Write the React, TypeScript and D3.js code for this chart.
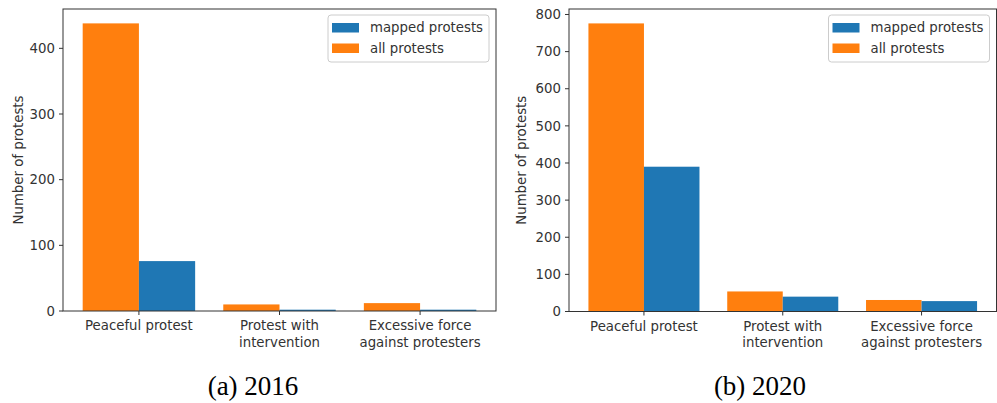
import React from "react";
import * as d3 from "d3";

const categories = ["Peaceful protest", "Protest with\nintervention", "Excessive force\nagainst protesters"];
const mapped2016 = [76, 2, 2];
const all2016 = [438, 10, 12];
const mapped2020 = [390, 40, 28];
const all2020 = [776, 54, 31];
const yTicks2016 = [0, 100, 200, 300, 400];
const yTicks2020 = [0, 100, 200, 300, 400, 500, 600, 700, 800];
const seriesNames = ["mapped protests", "all protests"];
const captions = ["(a) 2016", "(b) 2020"];

const BLUE = "#1f77b4";
const ORANGE = "#ff7f0e";
const AX = "#333333";
const FONT = "'DejaVu Sans', sans-serif";
const FS = 13.3;

type PanelProps = {
  left: number; right: number; top: number; bottom: number;
  mapped: number[]; all: number[]; ticks: number[]; caption: string;
  ylabelX: number; captionX: number;
};

function Panel({ left, right, top, bottom, mapped, all, ticks, caption, ylabelX, captionX }: PanelProps) {
  const maxV = d3.max(all.concat(mapped)) as number;
  const x = d3.scaleLinear().domain([-0.54, categories.length - 1 + 0.54]).range([left, right]);
  const y = d3.scaleLinear().domain([0, maxV * 1.05]).range([bottom, top]);
  const bw = 0.4;
  const legX = right - 168;
  return (
    <g>
      {all.map((v, i) => (
        <rect key={"a" + i} x={x(i - bw)} y={y(v)} width={x(i) - x(i - bw)} height={y(0) - y(v)} fill={ORANGE} />
      ))}
      {mapped.map((v, i) => (
        <rect key={"m" + i} x={x(i)} y={y(v)} width={x(i + bw) - x(i)} height={y(0) - y(v)} fill={BLUE} />
      ))}
      <rect x={left} y={top} width={right - left} height={bottom - top} fill="none" stroke={AX} strokeWidth={1} />
      {ticks.map((t) => (
        <g key={t}>
          <line x1={left - 4} x2={left} y1={y(t)} y2={y(t)} stroke={AX} />
          <text x={left - 8} y={y(t)} dy="0.35em" textAnchor="end" fontSize={FS} fontFamily={FONT} fill={AX}>{t}</text>
        </g>
      ))}
      {categories.map((c, i) => (
        <g key={c}>
          <line x1={x(i)} x2={x(i)} y1={bottom} y2={bottom + 4} stroke={AX} />
          {c.split("\n").map((ln, j) => (
            <text key={j} x={x(i)} y={bottom + 19 + j * 16.5} textAnchor="middle" fontSize={FS} fontFamily={FONT} fill={AX}>{ln}</text>
          ))}
        </g>
      ))}
      <text transform={`translate(${ylabelX},${(top + bottom) / 2}) rotate(-90)`} textAnchor="middle" fontSize={FS} fontFamily={FONT} fill={AX}>Number of protests</text>
      <rect x={legX} y={top + 6} width={161} height={47} rx={3} fill="white" fillOpacity={0.8} stroke="#cccccc" />
      {[BLUE, ORANGE].map((col, k) => (
        <g key={k}>
          <rect x={legX + 4} y={top + 14 + k * 20.5} width={27} height={9.5} fill={col} />
          <text x={legX + 42} y={top + 23 + k * 20.5} fontSize={FS} fontFamily={FONT} fill={AX}>{seriesNames[k]}</text>
        </g>
      ))}
      <text x={captionX} y={395} textAnchor="middle" fontSize={27} fontFamily="'Liberation Serif', serif" fill="#000">{caption}</text>
    </g>
  );
}

export default function App() {
  return (
    <svg width={997} height={403} style={{ position: "absolute", left: 0, top: 0, background: "white" }}>
      <rect width={997} height={403} fill="white" />
      <Panel left={63} right={496} top={9} bottom={311} mapped={mapped2016} all={all2016} ticks={yTicks2016} caption={captions[0]} ylabelX={23} captionX={253} />
      <Panel left={569} right={996.5} top={9} bottom={311.5} mapped={mapped2020} all={all2020} ticks={yTicks2020} caption={captions[1]} ylabelX={526} captionX={760} />
    </svg>
  );
}
